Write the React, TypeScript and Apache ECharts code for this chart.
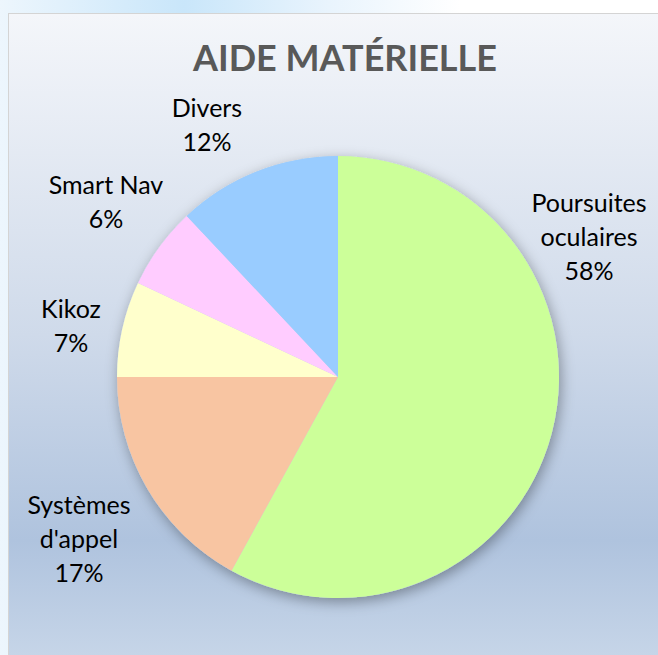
import React, { useEffect, useRef } from "react";
import * as echarts from "echarts";

const titleText = "AIDE MATÉRIELLE";
const categories = ["Poursuites\noculaires", "Systèmes\nd'appel", "Kikoz", "Smart Nav", "Divers"];
const values = [58, 17, 7, 6, 12];
const colors = ["#ccff99", "#f8c5a2", "#ffffcc", "#ffccff", "#99ccff"];
// label centres in chart pixel coordinates (layout only)
const labelPos: [number, number][] = [
  [580, 222],
  [70, 524],
  [62, 311],
  [97, 187],
  [198, 110],
];

export default function App() {
  const ref = useRef<HTMLDivElement>(null);
  useEffect(() => {
    document.body.style.margin = "0";
    const chart = echarts.init(ref.current!, null, { renderer: "svg" });
    const center = [329, 363];
    const radius = 221;
    chart.setOption({
      animation: false,
      backgroundColor: {
        type: "linear",
        x: 0,
        y: 0,
        x2: 0,
        y2: 1,
        colorStops: [
          { offset: 0, color: "#f4f6fa" },
          { offset: 0.5, color: "#cfdaea" },
          { offset: 0.82, color: "#afc3de" },
          { offset: 1, color: "#c6d5e8" },
        ],
      },
      title: {
        text: titleText,
        left: 331,
        top: 17,
        textAlign: "center",
        textStyle: {
          fontFamily: "Lato",
          fontWeight: "bold",
          fontSize: 36,
          color: "#595959",
          lineHeight: 42,
        },
      },
      series: [
        {
          type: "pie",
          center,
          radius,
          silent: true,
          z: 1,
          label: { show: false },
          labelLine: { show: false },
          itemStyle: {
            color: "#c0d0e4",
            shadowBlur: 14,
            shadowColor: "rgba(0,0,0,0.35)",
            shadowOffsetX: 2,
            shadowOffsetY: 4,
          },
          data: [{ value: 1, name: "shadow" }],
        },
        {
          type: "pie",
          center,
          radius,
          z: 2,
          startAngle: 90,
          clockwise: true,
          data: categories.map((c, i) => ({
            name: c,
            value: values[i],
            itemStyle: { color: colors[i] },
          })),
          itemStyle: { borderWidth: 0 },
          emphasis: { disabled: true },
          label: {
            show: true,
            position: "outside",
            formatter: (p: any) => `${p.name}\n${p.percent.toFixed(0)}%`,
            fontFamily: "Lato",
            fontSize: 25,
            lineHeight: 34,
            color: "#000000",
            align: "center",
            overflow: "none",
            width: 200,
          },
          labelLine: { show: false },
          labelLayout: (p: any) => ({
            x: labelPos[p.dataIndex][0],
            y: labelPos[p.dataIndex][1],
            align: "center",
            verticalAlign: "middle",
          }),
        },
      ],
    });
    return () => chart.dispose();
  }, []);
  return (
    <div
      style={{
        position: "fixed",
        left: 0,
        top: 0,
        width: 658,
        height: 655,
        background: "linear-gradient(90deg, #edf6fd 0%, #c9e6fa 28%, #e9f4fd 50%, #ffffff 70%)",
        overflow: "hidden",
      }}
    >
      <div
        style={{
          position: "absolute",
          left: 8,
          top: 13,
          width: 650,
          height: 642,
          borderLeft: "1px solid #d4d4d4",
          borderTop: "1px solid #d4d4d4",
        }}
      >
        <div ref={ref} style={{ width: 650, height: 642 }} />
      </div>
    </div>
  );
}
